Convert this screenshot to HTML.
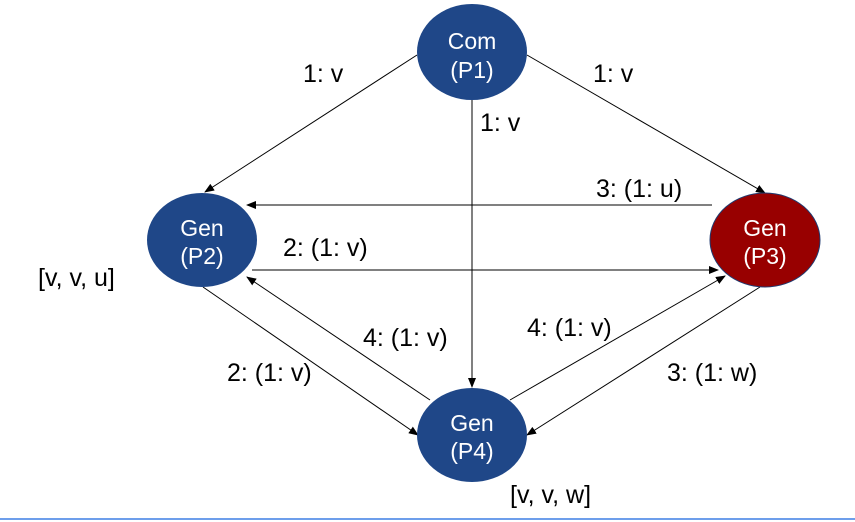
<!DOCTYPE html>
<html><head><style>body{margin:0;background:#fff}svg{display:block}text{font-family:"Liberation Sans",sans-serif;font-size:25px;fill:#000}.w{fill:#fff;text-anchor:middle;font-size:23px}</style></head><body>
<svg width="855" height="522" viewBox="0 0 855 522">
<defs><marker id="a" markerWidth="10" markerHeight="8" refX="9" refY="4" orient="auto" markerUnits="userSpaceOnUse"><path d="M0,0L10,4L0,8z" fill="#000"/></marker></defs>
<g stroke="#000" stroke-width="1" marker-end="url(#a)">
<line x1="417" y1="55" x2="205" y2="192"/>
<line x1="472" y1="100" x2="472" y2="387"/>
<line x1="527" y1="55" x2="765" y2="193"/>
<line x1="712" y1="205" x2="247" y2="205"/>
<line x1="252" y1="270" x2="718" y2="270"/>
<line x1="203" y1="287" x2="418" y2="435"/>
<line x1="430" y1="400" x2="247" y2="277"/>
<line x1="510" y1="400" x2="725" y2="276"/>
<line x1="760" y1="287" x2="527" y2="435"/>
</g>
<ellipse cx="472" cy="52" rx="55" ry="48" fill="#1f4788"/>
<ellipse cx="202" cy="240" rx="55" ry="47" fill="#1f4788"/>
<ellipse cx="765" cy="240" rx="55" ry="47" fill="#980000" stroke="#1f3a70" stroke-width="1"/>
<ellipse cx="472" cy="435" rx="55" ry="47" fill="#1f4788"/>
<text class="w" x="472" y="49">Com</text><text class="w" x="472" y="78">(P1)</text>
<text class="w" x="202" y="236">Gen</text><text class="w" x="202" y="264">(P2)</text>
<text class="w" x="765" y="236">Gen</text><text class="w" x="765" y="264">(P3)</text>
<text class="w" x="472" y="431">Gen</text><text class="w" x="472" y="459">(P4)</text>
<text x="303" y="82">1: v</text>
<text x="593" y="82">1: v</text>
<text x="480" y="131">1: v</text>
<text x="596" y="197">3: (1: u)</text>
<text x="283" y="256">2: (1: v)</text>
<text x="38" y="286">[v, v, u]</text>
<text x="363" y="346">4: (1: v)</text>
<text x="527" y="336">4: (1: v)</text>
<text x="227" y="381">2: (1: v)</text>
<text x="667" y="381">3: (1: w)</text>
<text x="510" y="503">[v, v, w]</text>
<line x1="0" y1="519" x2="855" y2="519" stroke="#6d9eeb" stroke-width="2"/>
</svg>
</body></html>
